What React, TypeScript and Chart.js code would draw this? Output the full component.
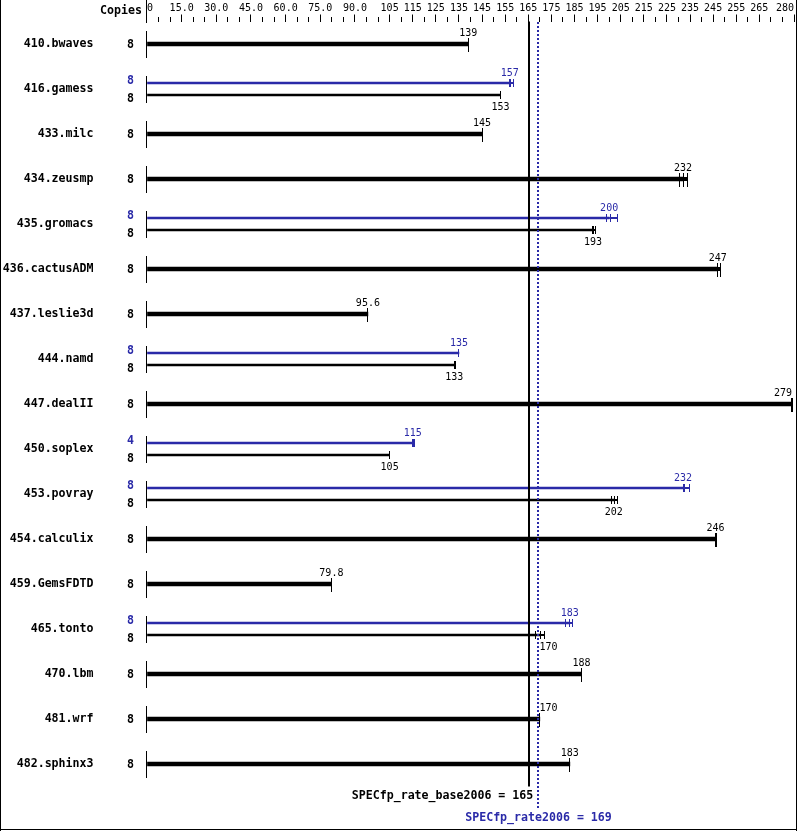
import React, { useEffect, useRef } from 'react';
import { Chart, registerables } from 'chart.js';

Chart.register(...registerables);

const benchmarks = [
  '410.bwaves', '416.gamess', '433.milc', '434.zeusmp', '435.gromacs', '436.cactusADM',
  '437.leslie3d', '444.namd', '447.dealII', '450.soplex', '453.povray', '454.calculix',
  '459.GemsFDTD', '465.tonto', '470.lbm', '481.wrf', '482.sphinx3',
];

// rows where peak == base: one thick bar
const singleRatio = [139, null, 145, 232, null, 247, 95.6, null, 279, null, null, 246, 79.8, null, 188, 170, 183];
const peakRatio = [null, 157, null, null, 200, null, null, 135, null, 115, 232, null, null, 183, null, null, null];
const baseRatio = [null, 153, null, null, 193, null, null, 133, null, 105, 202, null, null, 170, null, null, null];

const singleCopies = [8, null, 8, 8, null, 8, 8, null, 8, null, null, 8, 8, null, 8, 8, 8];
const peakCopies = [null, 8, null, null, 8, null, null, 8, null, 4, 8, null, null, 8, null, null, null];
const baseCopies = [null, 8, null, null, 8, null, null, 8, null, 8, 8, null, null, 8, null, null, null];

// individual run results (tick marks)
const singleRuns = [
  [139, 139, 139], null, [145, 145, 145], [230.4, 232, 233.9], null, [247, 247, 248.3],
  [95.6, 95.6, 95.6], null, [279, 279, 279.3], null, null, [246, 246, 246.3],
  [79.8, 79.8, 79.8], null, [188, 188, 188], [170, 170, 170], [183, 183, 183],
];
const peakRuns = [
  null, [157, 157.3, 158.8], null, null, [199, 200.4, 203.5], null,
  null, [135, 135, 135], null, [115, 115.2, 115.7], [232.2, 232.4, 234.9], null,
  null, [181.2, 183, 184.2], null, null, null,
];
const baseRuns = [
  null, [153, 153, 153], null, null, [193, 193.2, 193.9], null,
  null, [133, 133, 133.4], null, [105, 105, 105], [201.2, 202.3, 203.8], null,
  null, [168.2, 170.5, 172.2], null, null, null,
];

const xMajorTicks = [0, 15, 30, 45, 60, 75, 90, 105, 115, 125, 135, 145, 155, 165, 175, 185, 195, 205, 215, 225, 235, 245, 255, 265, 280];
const xMajorLabels = ['0', '15.0', '30.0', '45.0', '60.0', '75.0', '90.0', '105', '115', '125', '135', '145', '155', '165', '175', '185', '195', '205', '215', '225', '235', '245', '255', '265', '280'];
const xMin = 0;
const xMax = 280;
const xMinorStep = 5;

const overallBase = 165;
const overallPeak = 169;
const baseMetricName = 'SPECfp_rate_base2006';
const peakMetricName = 'SPECfp_rate2006';

const MONO = "'DejaVu Sans Mono', 'Liberation Mono', monospace";
const BLUE = '#2a2aa8';
const BLACK = '#000000';

const specPlugin = {
  id: 'specDecor',
  beforeDraw(chart: any) {
    const { ctx, width, height } = chart;
    ctx.save();
    ctx.fillStyle = '#ffffff';
    ctx.fillRect(0, 0, width, height);
    ctx.restore();
  },
  afterDatasetsDraw(chart: any) {
    const { ctx, chartArea } = chart;
    const x = chart.scales.x;
    const y = chart.scales.y;
    ctx.save();

    const x0 = Math.round(x.getPixelForValue(0)) - 1;

    // minor ticks on the top axis
    ctx.fillStyle = BLACK;
    for (let v = xMin; v <= xMax; v += xMinorStep) {
      if (xMajorTicks.includes(v)) continue;
      const px = Math.round(x.getPixelForValue(v) - 0.5);
      ctx.fillRect(px, chartArea.top - 4.5, 1, 5);
    }
    // separator at value 0
    ctx.fillRect(x0, 0, 1, Math.round(chartArea.top) + 1);

    // Copies header
    ctx.font = `bold 11.6px ${MONO}`;
    ctx.textAlign = 'right';
    ctx.textBaseline = 'alphabetic';
    ctx.fillText('Copies', 142, 14);

    // left segments per row
    benchmarks.forEach((_, i) => {
      const cy = y.getPixelForValue(i);
      ctx.fillStyle = BLACK;
      ctx.fillRect(x0, Math.round(cy - 13.5), 1, 27);
    });

    const values = [singleRatio, peakRatio, baseRatio];
    const runsAll = [singleRuns, peakRuns, baseRuns];
    const copiesAll = [singleCopies, peakCopies, baseCopies];
    const colors = [BLACK, BLUE, BLACK];

    const xLineBase = x.getPixelForValue(overallBase);
    const xLinePeak = x.getPixelForValue(overallPeak);

    const labels: any[] = [];

    for (let di = 0; di < 3; di++) {
      const meta = chart.getDatasetMeta(di);
      meta.data.forEach((el: any, i: number) => {
        const v = values[di][i];
        if (v == null) return;
        const props = el.getProps(['y', 'height'], true);
        const cy = props.y;
        const h = props.height;
        const runs = runsAll[di][i] as number[];
        const thick = di === 0;
        ctx.fillStyle = colors[di];
        const xMed = x.getPixelForValue(v);
        const xTop = x.getPixelForValue(Math.max(...runs));
        if (xTop > xMed) ctx.fillRect(xMed, cy - h / 2, xTop - xMed, h);
        runs.forEach((r) => {
          const px = Math.round(x.getPixelForValue(r) - 0.5);
          if (thick) ctx.fillRect(px, cy - 6, 1, 14);
          else ctx.fillRect(px, cy - 4, 1, 8);
        });
        // copies
        ctx.font = `bold 11.6px ${MONO}`;
        ctx.textAlign = 'right';
        ctx.textBaseline = 'alphabetic';
        const cpy = di === 0 ? cy : di === 1 ? cy - 3 : cy + 3;
        ctx.fillText(String(copiesAll[di][i]), 134, cpy + 4);
        const ly = di === 0 ? cy - 11.5 : di === 1 ? cy - 11 : cy + 11;
        labels.push({ text: String(v), x: xMed, y: ly, color: colors[di] });
      });
    }

    // reference lines
    ctx.fillStyle = BLACK;
    ctx.fillRect(Math.round(xLineBase), chartArea.top, 2, chartArea.bottom - chartArea.top);
    ctx.fillStyle = BLUE;
    const dx = Math.floor(xLinePeak);
    for (let yy = Math.round(chartArea.top); yy < 808; yy += 4) {
      ctx.fillRect(dx, yy, 2, 2);
    }

    // value labels
    ctx.font = `10px ${MONO}`;
    ctx.textBaseline = 'alphabetic';
    ctx.textAlign = 'left';
    labels.forEach((l) => {
      const w = ctx.measureText(l.text).width;
      let left = l.x - w / 2;
      const right = left + w;
      if (right > xLineBase - 1 && left < xLinePeak + 2) left = xLinePeak + 2;
      if (left + w > chartArea.right - 2) left = chartArea.right - 2 - w;
      ctx.fillStyle = l.color;
      ctx.fillText(l.text, left, l.y + 3.6);
    });

    // metric legends
    ctx.font = `bold 11.6px ${MONO}`;
    ctx.fillStyle = BLACK;
    ctx.textAlign = 'right';
    ctx.fillText(`${baseMetricName} = ${overallBase}`, xLineBase + 5, 798.5);
    ctx.fillStyle = BLUE;
    ctx.textAlign = 'center';
    ctx.fillText(`${peakMetricName} = ${overallPeak}`, xLinePeak + 1, 821);

    // frame
    ctx.fillStyle = BLACK;
    ctx.fillRect(0, 0, 1, 831);
    ctx.fillRect(796, 0, 1, 831);
    ctx.fillRect(0, 829, 797, 1);

    ctx.restore();
  },
};

export default function App() {
  const ref = useRef<HTMLCanvasElement>(null);

  useEffect(() => {
    if (!ref.current) return;
    const chart = new Chart(ref.current, {
      type: 'bar',
      data: {
        labels: benchmarks,
        datasets: [
          {
            label: 'single',
            data: singleRatio as any,
            backgroundColor: BLACK,
            barThickness: 4,
            skipNull: true,
          } as any,
          {
            label: 'peak',
            data: peakRatio as any,
            backgroundColor: BLUE,
            barThickness: 12,
            maxBarThickness: 2,
            skipNull: true,
          } as any,
          {
            label: 'base',
            data: baseRatio as any,
            backgroundColor: BLACK,
            barThickness: 12,
            maxBarThickness: 2,
            skipNull: true,
          } as any,
        ],
      },
      options: {
        responsive: false,
        animation: false,
        devicePixelRatio: 1,
        indexAxis: 'y',
        layout: { padding: { top: 0, left: 0, right: 5, bottom: 44.5 } },
        plugins: { legend: { display: false }, tooltip: { enabled: false } },
        scales: {
          x: {
            type: 'linear',
            position: 'top',
            min: xMin,
            max: xMax,
            afterBuildTicks: (s: any) => {
              const t: any[] = [];
              for (let v = xMin; v <= xMax; v += xMinorStep) t.push({ value: v });
              s.ticks = t;
            },
            afterFit: (s: any) => {
              s.height = 21.5;
              s.paddingLeft = 0;
              s.paddingRight = 0;
            },
            ticks: {
              autoSkip: false,
              maxRotation: 0,
              minRotation: 0,
              align: 'inner',
              padding: 0,
              color: BLACK,
              font: { family: MONO, size: 10 },
              callback: (v: any) => {
                const k = xMajorTicks.indexOf(Number(v));
                return k >= 0 ? xMajorLabels[k] : '';
              },
            },
            grid: {
              display: true,
              drawOnChartArea: false,
              drawTicks: true,
              tickLength: 7,
              tickWidth: 1,
              tickColor: (c: any) => {
                const v = c.tick ? c.tick.value : -1;
                return v !== 0 && xMajorTicks.includes(v) ? BLACK : 'rgba(0,0,0,0)';
              },
            },
            border: { display: false },
          } as any,
          y: {
            type: 'category',
            afterFit: (s: any) => {
              s.width = 147;
              s.paddingTop = 0;
              s.paddingBottom = 0;
            },
            grid: { display: false, drawTicks: false },
            border: { display: false },
            ticks: {
              autoSkip: false,
              padding: 53.5,
              color: BLACK,
              font: { family: MONO, size: 11.6, weight: 'bold' },
            },
          } as any,
        },
      } as any,
      plugins: [specPlugin],
    });
    return () => chart.destroy();
  }, []);

  return (
    <div style={{ position: 'absolute', left: 0, top: 0, width: 799, height: 831, background: '#fff' }}>
      <canvas ref={ref} width={799} height={831} style={{ display: 'block', width: 799, height: 831 }} />
    </div>
  );
}
